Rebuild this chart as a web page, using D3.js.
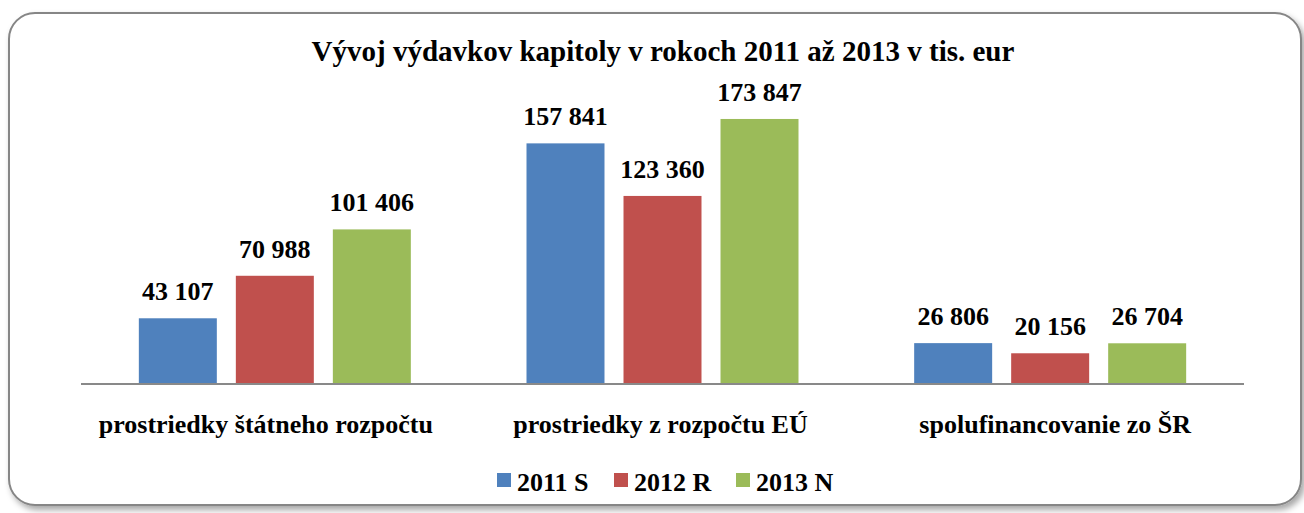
<!DOCTYPE html>
<html>
<head>
<meta charset="utf-8">
<script src="https://cdn.jsdelivr.net/npm/d3@7"></script>
<style>
  html, body { margin: 0; padding: 0; background: #fff; }
  svg { display: block; }
  text { font-family: "Liberation Serif", "Times New Roman", serif; font-weight: bold; fill: #000; }
</style>
</head>
<body>
<svg id="chart" width="1304" height="513"></svg>
<script>
// Expenditure of the chapter, thousands of EUR
const title = "Vývoj výdavkov kapitoly v rokoch 2011 až 2013 v tis. eur";
const categories = ["prostriedky štátneho rozpočtu", "prostriedky z rozpočtu EÚ", "spolufinancovanie zo ŠR"];
const seriesNames = ["2011 S", "2012 R", "2013 N"];
const values2011 = [43107, 157841, 26806];
const values2012 = [70988, 123360, 20156];
const values2013 = [101406, 173847, 26704];
const seriesColors = ["#4F81BD", "#C0504D", "#9BBB59"];

const series = [values2011, values2012, values2013];

const svg = d3.select("#chart");

// frame with soft shadow
const defs = svg.append("defs");
const f = defs.append("filter").attr("id", "shadow").attr("x", "-5%").attr("y", "-5%").attr("width", "110%").attr("height", "115%");
f.append("feDropShadow").attr("dx", 3).attr("dy", 4).attr("stdDeviation", 3).attr("flood-color", "#000").attr("flood-opacity", 0.35);

svg.append("rect")
  .attr("x", 9).attr("y", 13).attr("width", 1292).attr("height", 492)
  .attr("rx", 26).attr("ry", 26)
  .attr("fill", "#fff").attr("stroke", "#868686").attr("stroke-width", 2)
  .attr("filter", "url(#shadow)");

// title
svg.append("text")
  .attr("x", 663).attr("y", 61)
  .attr("text-anchor", "middle")
  .style("font-size", "29px")
  .text(title);

// scales
const plotLeft = 81, plotRight = 1244, baseY = 384;
const x0 = d3.scaleBand().domain(d3.range(categories.length)).range([plotLeft, plotRight]).paddingInner(0).paddingOuter(0);
const x1 = d3.scaleBand().domain(d3.range(series.length)).range([0, 272]).paddingInner(0.196);
const innerOffset = (x0.bandwidth() - 272) / 2;
const y = d3.scaleLinear().domain([0, 200000]).range([baseY, baseY - 304.9]);

const fmt = v => d3.format(",")(v).replace(/,/g, " ");

const groups = svg.append("g").selectAll("g")
  .data(categories.map((c, i) => ({ c, i })))
  .join("g")
  .attr("transform", d => `translate(${x0(d.i) + innerOffset},0)`);

groups.selectAll("rect")
  .data(d => series.map((s, k) => ({ k, v: s[d.i] })))
  .join("rect")
  .attr("x", d => x1(d.k))
  .attr("width", x1.bandwidth())
  .attr("y", d => y(d.v))
  .attr("height", d => baseY - y(d.v))
  .attr("fill", d => seriesColors[d.k]);

groups.selectAll("text.val")
  .data(d => series.map((s, k) => ({ k, v: s[d.i] })))
  .join("text")
  .attr("class", "val")
  .attr("x", d => x1(d.k) + x1.bandwidth() / 2)
  .attr("y", d => y(d.v) - 18)
  .attr("text-anchor", "middle")
  .style("font-size", "26px")
  .text(d => fmt(d.v));

// baseline
svg.append("line")
  .attr("x1", plotLeft).attr("x2", plotRight)
  .attr("y1", baseY).attr("y2", baseY)
  .attr("stroke", "#898989").attr("stroke-width", 2);

// category labels
const labelShift = [-9, -2, 5];
const xAxis = d3.axisBottom(x0).tickSize(0).tickPadding(0).tickFormat(i => categories[i]);
const axG = svg.append("g").attr("transform", `translate(0,${baseY})`).call(xAxis);
axG.select(".domain").remove();
axG.selectAll("text")
  .attr("x", i => labelShift[i])
  .attr("y", 49).attr("dy", 0)
  .style("font-size", "26px")
  .style("font-family", "\"Liberation Serif\", serif")
  .style("font-weight", "bold")
  .attr("fill", "#000");

// legend
const legendX = [497, 614, 736];
const lg = svg.append("g").selectAll("g")
  .data(seriesNames.map((n, k) => ({ n, k })))
  .join("g")
  .attr("transform", d => `translate(${legendX[d.k]},473)`);
lg.append("rect").attr("width", 14).attr("height", 14).attr("fill", d => seriesColors[d.k]);
lg.append("text").attr("x", 20).attr("y", 18).style("font-size", "26px").text(d => d.n);
</script>
</body>
</html>
